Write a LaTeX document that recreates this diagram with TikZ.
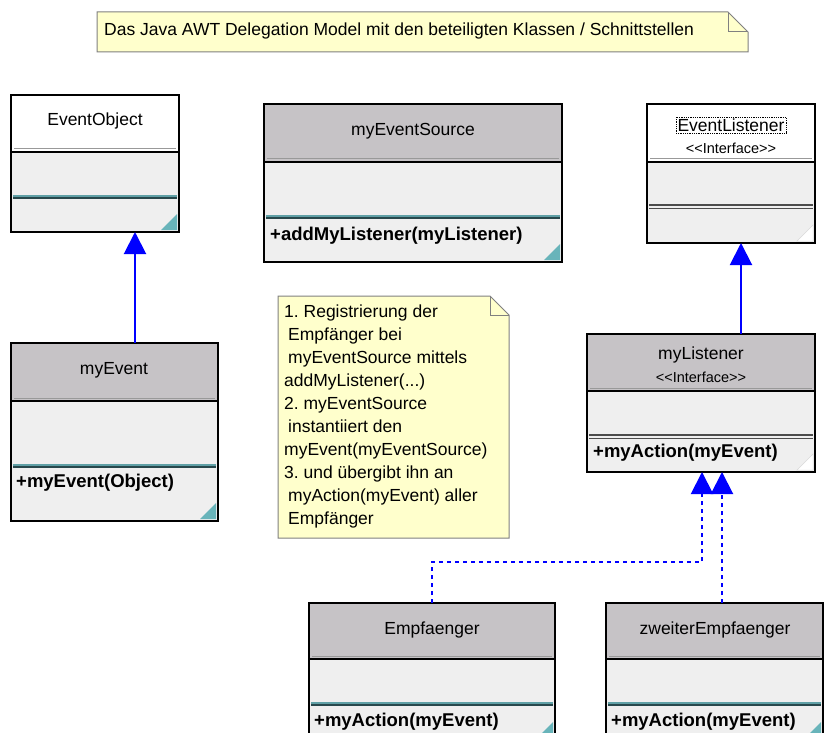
\documentclass[tikz,border=0pt]{standalone}
\usepackage{fontspec}
\setmainfont{Liberation Sans}
\frenchspacing
\usetikzlibrary{arrows.meta,calc}
\definecolor{namegrey}{RGB}{198,195,198}
\definecolor{compfill}{RGB}{239,239,239}
\definecolor{tealA}{RGB}{96,160,166}
\definecolor{tealD}{RGB}{40,72,76}
\definecolor{tealT}{RGB}{104,180,186}
\definecolor{notefill}{RGB}{255,255,204}
\definecolor{noteline}{RGB}{128,128,128}
\definecolor{umlblue}{RGB}{0,0,255}
\tikzset{
  namefont/.style={font=\fontsize{17.5}{21}\selectfont, inner sep=1pt},
  stereofont/.style={font=\fontsize{14.5}{17}\selectfont, inner sep=1pt},
  opfont/.style={font=\bfseries\fontsize{18.5}{22}\selectfont, inner sep=0pt, anchor=west},
  notefont/.style={font=\fontsize{17.5}{23}\selectfont, inner sep=0pt},
  boxframe/.style={draw=black, line width=1.5pt, inner sep=0pt, outer sep=0pt, anchor=north west},
  shade3d/.style={draw=black!40, line width=1pt},
  sepline/.style={draw=black, line width=1.2pt},
  sepAc/.style={draw=tealA, line width=2pt},
  sepBc/.style={draw=tealD, line width=2pt},
  sepAi/.style={draw=black!70, line width=1.2pt},
  sepBi/.style={draw=black!70, line width=1.2pt},
  cornerc/.style={fill=tealT},
  corneri/.style={fill=white, draw=black!15, line width=0.5pt},
  notebox/.style={draw=noteline, fill=notefill, line width=1pt, line join=miter},
  gen/.style={draw=umlblue, line width=2pt, -{Triangle[length=22pt,width=22pt]}, umlblue},
  realiz/.style={gen, dash pattern=on 4pt off 4pt}
}
% #1 name, #2 x1, #3 y1, #4 x2, #5 y2, #6 name bottom, #7 attr/op line, #8 name fill, #9 type c/i
\newcommand\umlcls[9]{%
  \fill[compfill] (#2,#6) rectangle (#4,#5);
  \fill[#8] (#2,#3) rectangle (#4,#6);
  \draw[shade3d] (#2+3,#6-3) -- (#4-3,#6-3);
  \draw[sepline] (#2,#6) -- (#4,#6);
  \if c#9
    \draw[sepAc] (#2+2,#7-1) -- (#4-2,#7-1);
    \draw[sepBc] (#2+2,#7+1) -- (#4-2,#7+1);
  \else
    \draw[sepAi] (#2+2,#7-2) -- (#4-2,#7-2);
    \draw[sepBi] (#2+2,#7+1.5) -- (#4-2,#7+1.5);
  \fi
  \path[corner#9] (#4-2,#5-2) -- (#4-2,#5-18) -- (#4-18,#5-2) -- cycle;
  \node[boxframe, minimum width={#4pt-#2pt}, minimum height={#5pt-#3pt}] (#1) at (#2,#3) {};
}
\begin{document}
\begin{tikzpicture}[x=1pt,y=-1pt]
\useasboundingbox (0,0) rectangle (825,733);
\clip (0,0) rectangle (825,733);
\fill[white] (0,0) rectangle (825,733);

% title note
\draw[notebox] (97,12) -- (728,12) -- (748,32) -- (748,52) -- (97,52) -- cycle;
\draw[noteline, line width=1pt] (728,12) -- (728,32) -- (748,32);
\node[notefont, anchor=west] (title) at (104,31) {Das Java AWT Delegation Model mit den beteiligten Klassen / Schnittstellen};

% explanation note
\draw[notebox] (278,296) -- (490,296) -- (509,315) -- (509,538) -- (278,538) -- cycle;
\draw[noteline, line width=1pt] (490,296) -- (490,315) -- (509,315);
\node[notefont, anchor=north west, align=left] (expl) at (284,305) {%
1. Registrierung der\\
\hspace*{4pt}Empfänger bei\\
\hspace*{4pt}myEventSource mittels\\
addMyListener(...)\\
2. myEventSource\\
\hspace*{4pt}instantiiert den\\
myEvent(myEventSource)\\
3. und übergibt ihn an\\
\hspace*{4pt}myAction(myEvent) aller\\
\hspace*{4pt}Empfänger};

% classes
\umlcls{eventobject}{11}{95}{179}{232}{152}{197}{white}{c}
\node[namefont] (eoname) at (95,121) {EventObject};

\umlcls{myeventsource}{264}{104}{562}{262}{162}{217}{namegrey}{c}
\node[namefont] (esname) at (413,131) {myEventSource};
\node[opfont] (esop) at (270,236) {+addMyListener(myListener)};

\umlcls{eventlistener}{647}{104}{815}{243}{162}{207}{white}{i}
\node[namefont, draw=black, densely dotted, line width=0.8pt, inner sep=1.5pt] (elname) at (731,125) {EventListener};
\node[stereofont] (elst) at (731,148) {{<}{<}Interface{>}{>}};

\umlcls{myevent}{11}{343}{218}{521}{401}{466}{namegrey}{c}
\node[namefont] (mename) at (114,370) {myEvent};
\node[opfont] (meop) at (16,483) {+myEvent(Object)};

\umlcls{mylistener}{587}{334}{815}{472}{391}{437}{namegrey}{i}
\node[namefont] (mlname) at (701,355) {myListener};
\node[stereofont] (mlst) at (701,377) {{<}{<}Interface{>}{>}};
\node[opfont] (mlop) at (593,453) {+myAction(myEvent)};

\umlcls{empf}{309}{603}{555}{740}{659}{704}{namegrey}{c}
\node[namefont] (emname) at (432,630) {Empfaenger};
\node[opfont] (emop) at (314,722) {+myAction(myEvent)};

\umlcls{zweiter}{606}{603}{823}{740}{659}{704}{namegrey}{c}
\node[namefont] (zwname) at (715,630) {zweiterEmpfaenger};
\node[opfont] (zwop) at (611,722) {+myAction(myEvent)};

% connectors
\draw[gen] ($(myevent.north west)+(124,0)$) -- ($(eventobject.south west)+(124,0)$);
\draw[gen] ($(mylistener.north west)+(154,0)$) -- ($(eventlistener.south west)+(94,0)$);
\draw[realiz] (empf.north) |- ($(mylistener.south west)+(115,90)$) -- ($(mylistener.south west)+(115,0)$);
\draw[realiz] ($(zweiter.north west)+(116,0)$) -- ($(mylistener.south west)+(135,0)$);
\end{tikzpicture}
\end{document}
